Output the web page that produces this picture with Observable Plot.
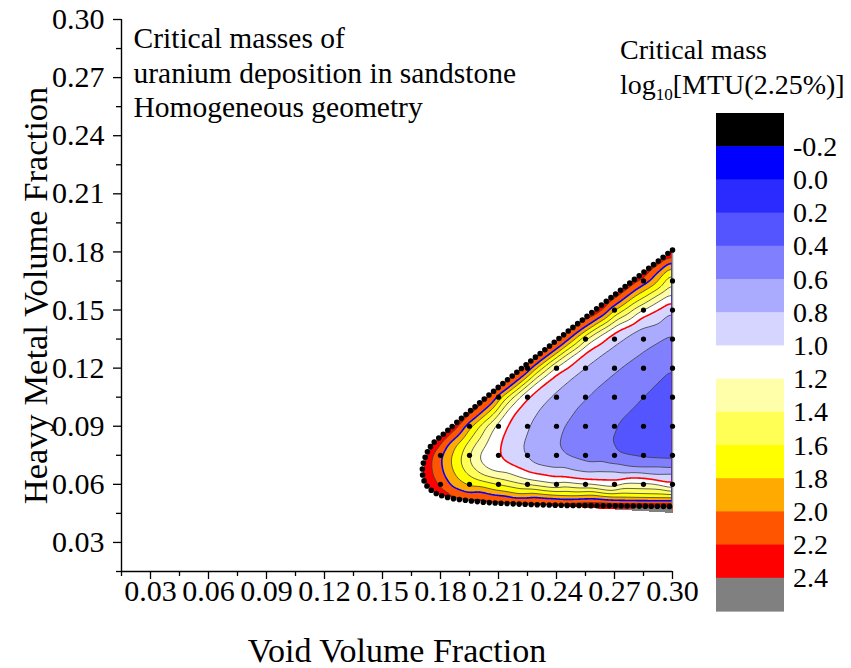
<!DOCTYPE html>
<html>
<head>
<meta charset="utf-8">
<script src="https://cdn.jsdelivr.net/npm/d3@7"></script>
<script src="https://cdn.jsdelivr.net/npm/@observablehq/plot@0.6"></script>
<style>
  body { margin: 0; background: #ffffff; }
  #chart { width: 851px; height: 668px; }
</style>
</head>
<body>
<div id="chart"></div>
<script>
// ---------------- data ----------------
// contour levels of log10 critical mass and the points of each level line (x = void fraction, y = heavy metal fraction)
const levels = [0.4, 0.6, 0.8, 1.0, 1.2, 1.4, 1.6, 1.8, 2.0, 2.2];
const c04 = [[0.300,0.1195],[0.2817,0.1016],[0.2720,0.0920],[0.2655,0.0835],[0.2680,0.0785],[0.2714,0.0749],[0.2834,0.0727],[0.300,0.0722]];
const c06 = [[0.300,0.1377],[0.2870,0.1300],[0.2730,0.1200],[0.2610,0.1100],[0.2510,0.1000],[0.2440,0.0900],[0.2405,0.0850],[0.2392,0.0810],[0.2405,0.0775],[0.2438,0.0749],[0.2576,0.0705],[0.2800,0.0688],[0.300,0.0682]];
const c08 = [[0.300,0.1497],[0.2815,0.1400],[0.2672,0.1300],[0.2540,0.1200],[0.2420,0.1100],[0.2365,0.1050],[0.2318,0.1000],[0.2285,0.0950],[0.2260,0.0900],[0.2225,0.0800],[0.2220,0.0770],[0.2235,0.0730],[0.2280,0.0700],[0.2400,0.0678],[0.2600,0.0665],[0.300,0.0658]];
const c10 = [[0.300,0.1545],[0.2852,0.1472],[0.2700,0.1386],[0.2550,0.1282],[0.2400,0.1171],[0.2345,0.1130],[0.2291,0.1085],[0.2246,0.1044],[0.2205,0.0998],[0.2176,0.0962],[0.2153,0.0921],[0.2119,0.0843],[0.2105,0.0765],[0.2125,0.0725],[0.2153,0.0706],[0.2257,0.0663],[0.2412,0.0637],[0.2567,0.0620],[0.300,0.0607]];
const c12 = [[0.300,0.1589],[0.2853,0.1500],[0.2593,0.1350],[0.2389,0.1200],[0.2295,0.1125],[0.2206,0.1050],[0.2138,0.0975],[0.2079,0.0900],[0.2029,0.0800],[0.1995,0.0750],[0.2005,0.0705],[0.2040,0.0675],[0.2100,0.0655],[0.2250,0.0621],[0.2400,0.0598],[0.2700,0.0580],[0.300,0.0573]];
const c14 = [[0.300,0.1650],[0.2792,0.1500],[0.2557,0.1350],[0.2356,0.1200],[0.2173,0.1050],[0.2037,0.0900],[0.1975,0.0800],[0.1950,0.0745],[0.1960,0.0697],[0.2000,0.0662],[0.2100,0.0628],[0.2250,0.0598],[0.2400,0.0580],[0.2700,0.0565],[0.300,0.0559]];
const c16 = [[0.300,0.1693],[0.2748,0.1500],[0.2526,0.1350],[0.2328,0.1200],[0.2145,0.1050],[0.2000,0.0900],[0.1928,0.0800],[0.1912,0.0750],[0.1903,0.0732],[0.1915,0.0682],[0.1950,0.0642],[0.2000,0.0620],[0.2100,0.0600],[0.2250,0.0580],[0.2400,0.0566],[0.2700,0.0553],[0.300,0.0546]];
const c18 = [[0.300,0.1728],[0.2705,0.1500],[0.2493,0.1350],[0.2297,0.1200],[0.2114,0.1050],[0.1961,0.0900],[0.1878,0.0800],[0.1860,0.0750],[0.1852,0.0723],[0.1865,0.0665],[0.1900,0.0618],[0.1950,0.0592],[0.2100,0.0565],[0.2250,0.0550],[0.2400,0.0541],[0.2700,0.0532],[0.300,0.0527]];
const c20 = [[0.300,0.1759],[0.2668,0.1500],[0.2462,0.1350],[0.2269,0.1200],[0.2086,0.1050],[0.1924,0.0900],[0.1831,0.0800],[0.1809,0.0750],[0.1805,0.0715],[0.1818,0.0654],[0.1860,0.0585],[0.1946,0.0551],[0.2188,0.0525],[0.2450,0.0519],[0.2700,0.0516],[0.300,0.0514]];
const c22 = [[0.300,0.1776],[0.2646,0.1500],[0.2440,0.1350],[0.2249,0.1200],[0.2066,0.1050],[0.1899,0.0900],[0.1799,0.0800],[0.1758,0.0750],[0.1752,0.0695],[0.1765,0.0635],[0.1800,0.0578],[0.1850,0.0550],[0.1950,0.0530],[0.2100,0.0518],[0.2300,0.0511],[0.2600,0.0508],[0.300,0.0506]];
const levelLines = [c04, c06, c08, c10, c12, c14, c16, c18, c20, c22];

// limit of the computed domain (dotted black boundary) and its value
const boundary = [[0.300,0.1810],[0.2834,0.1682],[0.2696,0.1575],[0.2524,0.1441],[0.2386,0.1332],[0.2248,0.1222],[0.2110,0.1110],[0.1960,0.0985],[0.1830,0.0872],[0.1752,0.0800],[0.1718,0.0732],[0.1706,0.0665],[0.1722,0.0603],[0.1765,0.0560],[0.1835,0.0533],[0.1990,0.0511],[0.2162,0.0500],[0.2421,0.0492],[0.2705,0.0489],[0.300,0.0486]];
const boundaryValue = 2.38;
// minimum zone at the right edge and the grey corner (> 2.4), [x, y, value]
const innerPoints = [[0.300,0.0950,0.25],[0.288,0.0900,0.31],[0.300,0.0820,0.30],[0.300,0.1080,0.30]];
const cornerPoints = [[0.300,0.0450,2.75]];

// calculation grid points (black dots)
const gridRows = [0.060, 0.075, 0.090, 0.105, 0.120, 0.135, 0.150, 0.165];
const gridCols = [
  [0.180,0.195,0.210,0.225,0.240,0.255,0.270,0.285,0.300],
  [0.180,0.195,0.210,0.225,0.240,0.255,0.270,0.285,0.300],
  [0.195,0.210,0.225,0.240,0.255,0.270,0.285,0.300],
  [0.210,0.225,0.240,0.255,0.270,0.285,0.300],
  [0.225,0.240,0.255,0.270,0.285,0.300],
  [0.255,0.270,0.285,0.300],
  [0.270,0.285,0.300],
  [0.285,0.300]
];

// ticks
const xMajor = [0.03,0.06,0.09,0.12,0.15,0.18,0.21,0.24,0.27,0.30];
const xMinor = [0.015,0.045,0.075,0.105,0.135,0.165,0.195,0.225,0.255,0.285];
const yMajor = [0.03,0.06,0.09,0.12,0.15,0.18,0.21,0.24,0.27,0.30];
const yMinor = [0.015,0.045,0.075,0.105,0.135,0.165,0.195,0.225,0.255,0.285];

// colour bands
const bandBreaks = [-0.2,0.0,0.2,0.4,0.6,0.8,1.0,1.2,1.4,1.6,1.8,2.0,2.2,2.4];
const bandColors = ["#000000","#0000ff","#2b2bff","#5555ff","#8080ff","#aaaaff","#d5d5ff","#ffffff","#ffffaa","#ffff55","#ffff00","#ffaa00","#ff5500","#ff0000","#808080"];
const legendLabels = ["-0.2","0.0","0.2","0.4","0.6","0.8","1.0","1.2","1.4","1.6","1.8","2.0","2.2","2.4"];
const fillThresholds = [0.2,0.4,0.6,0.8,1.0,1.2,1.4,1.6,1.8,2.0,2.2,2.4];
const greyLevels = [0.4,0.6,0.8,1.2,1.4,1.6,1.8,2.2];

const annotation = ["Critical masses of", "uranium deposition in sandstone", "Homogeneous geometry"];

// ---------------- build tables ----------------
const samples = [];
levelLines.forEach((pts, i) => pts.forEach(([x, y]) => samples.push({x, y, v: levels[i]})));
boundary.forEach(([x, y]) => samples.push({x, y, v: boundaryValue}));
innerPoints.forEach(([x, y, v]) => samples.push({x, y, v}));
cornerPoints.forEach(([x, y, v]) => samples.push({x, y, v}));

const gridPoints = [];
gridRows.forEach((y, i) => gridCols[i].forEach((x) => gridPoints.push({x, y})));

// NaN-aware box blur (only inside the sampled domain)
function blurValid(W, width, height, r, passes) {
  const tmp = new Float64Array(W.length);
  for (let p = 0; p < passes; ++p) {
    for (let y = 0; y < height; ++y) {
      const row = y * width;
      for (let x = 0; x < width; ++x) {
        const i = row + x;
        if (isNaN(W[i])) { tmp[i] = NaN; continue; }
        let s = 0, n = 0;
        const k0 = Math.max(0, x - r), k1 = Math.min(width - 1, x + r);
        for (let k = k0; k <= k1; ++k) { const v = W[row + k]; if (!isNaN(v)) { s += v; ++n; } }
        tmp[i] = s / n;
      }
    }
    for (let x = 0; x < width; ++x) {
      for (let y = 0; y < height; ++y) {
        const i = y * width + x;
        if (isNaN(tmp[i])) { W[i] = NaN; continue; }
        let s = 0, n = 0;
        const k0 = Math.max(0, y - r), k1 = Math.min(height - 1, y + r);
        for (let k = k0; k <= k1; ++k) { const v = tmp[k * width + x]; if (!isNaN(v)) { s += v; ++n; } }
        W[i] = s / n;
      }
    }
  }
}

// linear interpolation on the Delaunay triangulation, leaving the area outside the samples empty
function hullInterpolator(outside) {
  return (index, width, height, X, Y, V) => {
    const W = new Float64Array(width * height).fill(NaN);
    const {points, triangles} = d3.Delaunay.from(index, (i) => X[i], (i) => Y[i]);
    for (let t = 0; t < triangles.length; t += 3) {
      const a = triangles[t], b = triangles[t + 1], c = triangles[t + 2];
      const ax = points[2 * a], ay = points[2 * a + 1];
      const bx = points[2 * b], by = points[2 * b + 1];
      const cx = points[2 * c], cy = points[2 * c + 1];
      const va = V[index[a]], vb = V[index[b]], vc = V[index[c]];
      const z = (by - cy) * (ax - cx) + (ay - cy) * (cx - bx);
      if (!z) continue;
      const x0 = Math.max(0, Math.floor(Math.min(ax, bx, cx)));
      const x1 = Math.min(width - 1, Math.ceil(Math.max(ax, bx, cx)));
      const y0 = Math.max(0, Math.floor(Math.min(ay, by, cy)));
      const y1 = Math.min(height - 1, Math.ceil(Math.max(ay, by, cy)));
      for (let y = y0; y <= y1; ++y) {
        const yp = y + 0.5;
        for (let x = x0; x <= x1; ++x) {
          const xp = x + 0.5;
          const ga = ((by - cy) * (xp - cx) + (yp - cy) * (cx - bx)) / z;
          if (ga < -1e-9) continue;
          const gb = ((cy - ay) * (xp - cx) + (yp - cy) * (ax - cx)) / z;
          if (gb < -1e-9) continue;
          const gc = 1 - ga - gb;
          if (gc < -1e-9) continue;
          W[x + width * y] = ga * va + gb * vb + gc * vc;
        }
      }
    }
    blurValid(W, width, height, 4, 2);
    if (!isNaN(outside)) for (let i = 0; i < W.length; ++i) if (isNaN(W[i])) W[i] = outside;
    return W;
  };
}

const FONT = "'Liberation Serif', 'Times New Roman', Times, serif";
const lineOpts = {x: "x", y: "y", value: "v", fill: "none", interpolate: hullInterpolator(9), pixelSize: 1,
                  x1: 0.0, x2: 0.33, y1: 0.0, y2: 0.33, clip: true};

const plot = Plot.plot({
  width: 851,
  height: 668,
  marginLeft: 121,
  marginRight: 179,
  marginTop: 19,
  marginBottom: 97,
  x: {domain: [0.015, 0.30], label: null},
  y: {domain: [0.015, 0.30], label: null},
  color: {type: "threshold", domain: bandBreaks, range: bandColors},
  style: {fontFamily: FONT, fontSize: "30px", color: "black", background: "white", overflow: "visible"},
  marks: [
    Plot.contour(samples, {x: "x", y: "y", fill: "v", stroke: "none", thresholds: fillThresholds,
      interpolate: hullInterpolator(NaN), pixelSize: 1}),
    Plot.contour(samples, {...lineOpts, thresholds: greyLevels, stroke: "#3c3c3c", strokeWidth: 0.8}),
    Plot.contour(samples, {...lineOpts, thresholds: [1.0], stroke: "#ff0000", strokeWidth: 1.6}),
    Plot.contour(samples, {...lineOpts, thresholds: [2.0], stroke: "#0000ff", strokeWidth: 1.6}),
    Plot.ruleX([0.30], {y1: boundary[boundary.length - 1][1], y2: boundary[0][1], stroke: "#a0a0a0", strokeWidth: 1.6}),
    Plot.dot(gridPoints, {x: "x", y: "y", r: 2.6, fill: "black"}),
    Plot.line(boundary, {x: (d) => d[0], y: (d) => d[1], curve: "catmull-rom", stroke: "black",
      strokeWidth: 5.6, strokeDasharray: "0 6", strokeLinecap: "round"}),
    Plot.ruleX([0.015], {stroke: "black", strokeWidth: 1.4}),
    Plot.ruleY([0.015], {stroke: "black", strokeWidth: 1.4}),
    Plot.axisX(xMinor, {anchor: "bottom", tickSize: 5, tickFormat: () => "", label: null, strokeWidth: 1.3}),
    Plot.axisX(xMajor, {anchor: "bottom", tickSize: 8, tickPadding: 0, tickFormat: d3.format(".2f"), label: null,
      strokeWidth: 1.3, fontSize: 30, fontFamily: FONT}),
    Plot.axisY(yMinor, {anchor: "left", tickSize: 5, tickFormat: () => "", label: null, strokeWidth: 1.3}),
    Plot.axisY(yMajor, {anchor: "left", tickSize: 8, tickPadding: 9, tickFormat: d3.format(".2f"), label: null,
      strokeWidth: 1.3, fontSize: 30, fontFamily: FONT}),
    Plot.text(["Void Volume Fraction"], {frameAnchor: "bottom", dy: 80, lineAnchor: "middle", textAnchor: "middle",
      fontSize: 34, fontFamily: FONT, fill: "black"}),
    Plot.text(["Heavy Metal Volume Fraction"], {frameAnchor: "left", dx: -86, rotate: -90, lineAnchor: "middle",
      textAnchor: "middle", fontSize: 34.5, fontFamily: FONT, fill: "black"}),
    Plot.text([annotation.join("\n")], {frameAnchor: "top-left", dx: 12, dy: 4, textAnchor: "start", lineAnchor: "top",
      lineHeight: 1.17, fontSize: 29.5, fontFamily: FONT, fill: "black"})
  ]
});

document.getElementById("chart").appendChild(plot);

// ---------------- colour legend (uses the plot's colour scale) ----------------
const color = plot.scale("color");
const svg = d3.select(plot);
const lg = svg.append("g").attr("font-family", FONT).attr("font-size", 28).attr("fill", "black").attr("text-anchor", "start");
const boxX = 716, boxW = 68, boxTop = 113, slot = 33.2;
const slotValues = [-0.3].concat(bandBreaks);
slotValues.forEach((v, i) => {
  lg.append("rect")
    .attr("x", boxX).attr("y", boxTop + i * slot)
    .attr("width", boxW).attr("height", slot + 0.6)
    .attr("fill", color.apply(v));
});
legendLabels.forEach((t, i) => {
  lg.append("text").attr("text-anchor", "start").attr("x", 793).attr("y", boxTop + (i + 1) * slot).attr("dy", "0.34em").text(t);
});
lg.append("text").attr("text-anchor", "start").attr("x", 620).attr("y", 59).text("Critical mass");
const t2 = lg.append("text").attr("text-anchor", "start").attr("x", 620).attr("y", 94);
t2.append("tspan").text("log");
t2.append("tspan").attr("font-size", 17).attr("dy", 6).text("10");
t2.append("tspan").attr("dy", -6).text("[MTU(2.25%)]");
</script>
</body>
</html>
